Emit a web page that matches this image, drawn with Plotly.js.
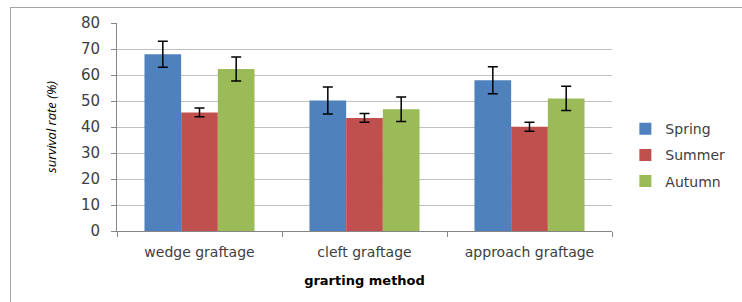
<!DOCTYPE html>
<html><head><meta charset="utf-8">
<script src="https://cdn.plot.ly/plotly-3.0.1.min.js"></script>
<style>
html,body{margin:0;padding:0;background:#fff;}
#wrap{position:relative;width:742px;height:302px;overflow:hidden;}
#chart{width:742px;height:302px;}
#frame{position:absolute;left:10px;top:7px;width:760px;height:320px;border:1.5px solid #a6a6a6;pointer-events:none;}
</style></head>
<body>
<div id="wrap"><div id="chart"></div><div id="frame"></div></div>
<script>
var categories = ["wedge graftage", "cleft graftage", "approach graftage"];
var seriesNames = ["Spring", "Summer", "Autumn"];
var spring = [68, 50.2, 58];
var summer = [45.6, 43.5, 40.1];
var autumn = [62.3, 46.8, 51];
var springErr = [5, 5.2, 5.2];
var summerErr = [1.7, 1.7, 1.7];
var autumnErr = [4.6, 4.7, 4.7];
var yTicks = [0, 10, 20, 30, 40, 50, 60, 70, 80];
var colors = ["#4F81BD", "#C0504D", "#9BBB59"];

var vals = [spring, summer, autumn];
var errs = [springErr, summerErr, autumnErr];
var traces = seriesNames.map(function(n, i){
  return {
    type: "bar", name: n, x: categories, y: vals[i],
    marker: {color: colors[i]},
    legendgroup: n,
    error_y: {type: "data", array: errs[i], visible: true, color: "#000", thickness: 1.5, width: 5}
  };
});

var font = "DejaVu Sans, Verdana, sans-serif";
var layout = {
  width: 742, height: 302,
  margin: {l: 117, r: 130, t: 23, b: 71, autoexpand: false},
  paper_bgcolor: "#fff", plot_bgcolor: "#fff",
  barmode: "group", bargap: 0.333, bargroupgap: 0,
  showlegend: true,
  legend: {x: 1.027, y: 0.365, xanchor: "left", yanchor: "middle",
    font: {family: font, size: 14, color: "#404040"},
    traceorder: "grouped", tracegroupgap: 5},
  xaxis: {
    showline: true, linecolor: "#868686", linewidth: 1,
    ticks: "outside", tickcolor: "#868686", ticklen: 5,
    tickson: "boundaries", ticklabelstandoff: 8,
    tickfont: {family: font, size: 14, color: "#404040"},
    title: {text: "<b>grarting method</b>", font: {family: font, size: 13, color: "#000"}, standoff: 17}
  },
  yaxis: {
    range: [0, 80], tickvals: yTicks, ticktext: yTicks.map(String),
    showline: true, linecolor: "#868686", linewidth: 1,
    ticks: "outside", tickcolor: "#868686", ticklen: 5,
    ticklabelstandoff: 8,
    showgrid: true, gridcolor: "#c0c0c0", gridwidth: 1,
    zeroline: false,
    tickfont: {family: font, size: 15, color: "#404040"},
    title: {text: "<i>survival rate (%)</i>", font: {family: "Open Sans, sans-serif", size: 13, color: "#000"}, standoff: 21}
  }
};
Plotly.newPlot("chart", traces, layout, {displayModeBar: false, staticPlot: true});
</script>
</body></html>
